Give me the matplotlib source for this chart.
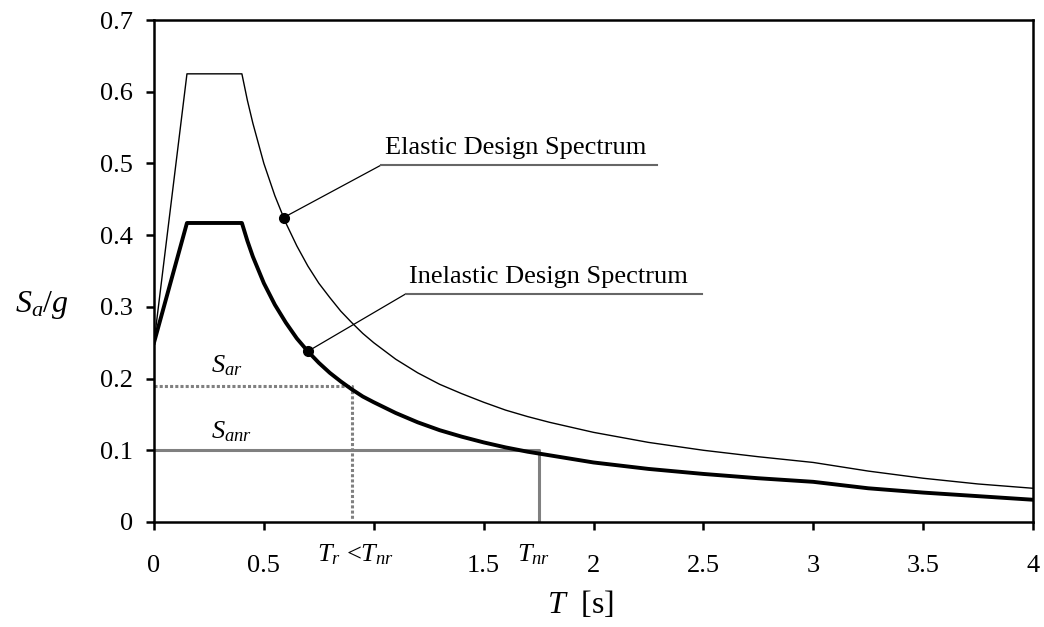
import numpy as np
import matplotlib
matplotlib.use("Agg")
from matplotlib import pyplot as plt

plt.rcParams['font.family'] = ['Liberation Serif', 'DejaVu Serif']
plt.rcParams['mathtext.fontset'] = 'custom'
plt.rcParams['mathtext.rm'] = 'Liberation Serif'
plt.rcParams['mathtext.it'] = 'Liberation Serif:italic'

# period [s]
period = [0.0, 0.15, 0.4, 0.425, 0.45, 0.5, 0.55, 0.6, 0.65, 0.7, 0.75, 0.8,
          0.85, 0.9, 0.95, 1.0, 1.1, 1.2, 1.3, 1.4, 1.5, 1.6, 1.7, 1.8, 1.9,
          2.0, 2.25, 2.5, 2.75, 3.0, 3.25, 3.5, 3.75, 4.0]
elastic = [0.250, 0.625, 0.625, 0.588, 0.556, 0.500, 0.455, 0.417, 0.385,
           0.357, 0.333, 0.313, 0.294, 0.278, 0.263, 0.250, 0.227, 0.208,
           0.192, 0.179, 0.167, 0.156, 0.147, 0.139, 0.132, 0.125, 0.111,
           0.100, 0.091, 0.083, 0.071, 0.061, 0.053, 0.047]
inelastic = [0.250, 0.417, 0.417, 0.392, 0.370, 0.333, 0.303, 0.278, 0.256,
             0.238, 0.222, 0.208, 0.196, 0.185, 0.175, 0.167, 0.152, 0.139,
             0.128, 0.119, 0.111, 0.104, 0.098, 0.093, 0.088, 0.083, 0.074,
             0.067, 0.061, 0.056, 0.047, 0.041, 0.036, 0.031]

# reference points
T_r, Sa_r = 0.9, 0.19
T_nr, Sa_nr = 1.75, 0.10

fig = plt.figure(figsize=(10.44, 6.27), dpi=100)
ax = fig.add_axes([0.1475, 0.1675, 0.842, 0.8005])

ax.plot(period, elastic, color='black', lw=1.0, zorder=3)
ax.plot(period, inelastic, color='black', lw=2.8, zorder=3,
        solid_joinstyle='round')

grey = '#808080'
ax.plot([0, T_r, T_r], [Sa_r, Sa_r, 0.003], color=grey, lw=2.2,
        dashes=(1.0, 0.7), zorder=2)
ax.plot([0, T_nr, T_nr], [Sa_nr, Sa_nr, 0.003], color=grey, lw=2.2, zorder=2)

# labels with leader lines
def label(t_dot, curve, elbow, end, text):
    y_dot = np.interp(t_dot, period, curve)
    ax.plot([t_dot, elbow[0]], [y_dot, elbow[1]], color='black', lw=0.9,
            zorder=4)
    ax.plot([elbow[0], end], [elbow[1], elbow[1]], color='#666666', lw=1.5,
            zorder=4)
    ax.plot([t_dot], [y_dot], 'o', color='black', ms=7, zorder=5)
    ax.text(elbow[0] + 0.015, elbow[1] + 0.008, text, fontsize=19,
            ha='left', va='bottom')

label(0.59, elastic, (1.035, 0.498), 2.287, 'Elastic Design Spectrum')
label(0.70, inelastic, (1.145, 0.318), 2.495, 'Inelastic Design Spectrum')

ax.text(0.26, 0.218, '$S_{ar}$', fontsize=19, ha='left', va='center')
ax.text(0.26, 0.126, '$S_{anr}$', fontsize=19, ha='left', va='center')
ax.text(0.915, -0.045, '$T_r$ <$T_{nr}$', fontsize=19, ha='center',
        va='center', clip_on=False)
ax.text(1.725, -0.045, '$T_{nr}$', fontsize=19, ha='center', va='center',
        clip_on=False)

ax.set_xlim(0, 4)
ax.set_ylim(0, 0.7)
ax.set_xticks([0, 0.5, 1, 1.5, 2, 2.5, 3, 3.5, 4])
ax.set_xticklabels(['0', '0.5', '', '1.5', '2', '2.5', '3', '3.5', '4'])
ax.set_yticks([0, 0.1, 0.2, 0.3, 0.4, 0.5, 0.6, 0.7])
ax.set_yticklabels(['0', '0.1', '0.2', '0.3', '0.4', '0.5', '0.6', '0.7'])
ax.tick_params(direction='out', length=6, width=1.8, labelsize=19)
ax.tick_params(axis='x', pad=18)
ax.tick_params(axis='y', pad=9)
for s in ax.spines.values():
    s.set_linewidth(1.8)

ax.set_ylabel('$S_a/g$', fontsize=23, rotation=0, ha='center', va='center')
ax.yaxis.set_label_coords(-0.127, 0.432)
ax.set_xlabel('$T$  [s]', fontsize=23, va='center')
ax.xaxis.set_label_coords(0.485, -0.165)

fig.savefig('out.png', dpi=100)
